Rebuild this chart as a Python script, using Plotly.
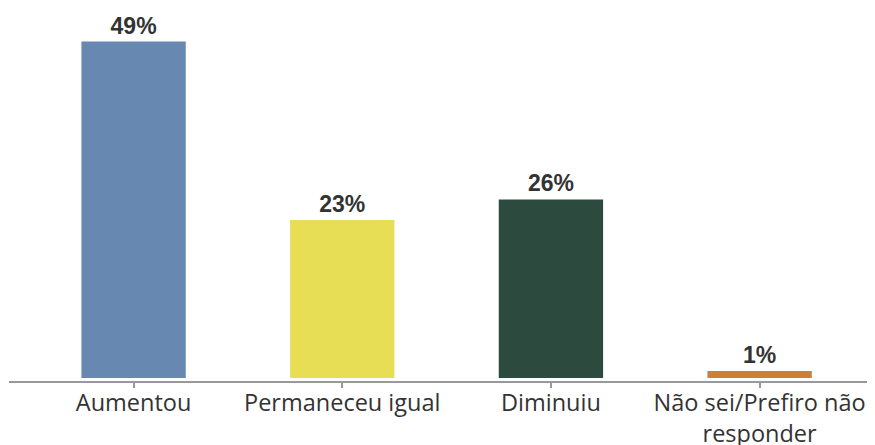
import plotly.graph_objects as go

categories = ["Aumentou", "Permaneceu igual", "Diminuiu", "Não sei/Prefiro não<br>responder"]
values = [49, 23, 26, 1]
labels = ["49%", "23%", "26%", "1%"]
colors = ["#6788b0", "#e8de55", "#2c4a3e", "#cd7f34"]

fig = go.Figure(go.Bar(
    x=categories, y=values, width=0.5,
    marker=dict(color=colors, line=dict(width=0)),
    text=labels, textposition="outside", cliponaxis=False,
    textfont=dict(family="Liberation Sans, Arial", size=23, color="#333333", weight="bold"),
))

# page body has an 8px default margin, compensated in the margins below
fig.update_layout(
    width=875, height=445,
    margin=dict(l=1, r=8, t=2, b=72),
    paper_bgcolor="white", plot_bgcolor="white",
    showlegend=False,
    xaxis=dict(
        range=[-0.597, 3.553], automargin=False,
        showline=True, linecolor="#999999", linewidth=2,
        ticks="outside", ticklen=5, tickwidth=2, tickcolor="#999999",
        ticklabelstandoff=-5,
        tickfont=dict(family="Open Sans", size=23.5, color="#333333"),
        showgrid=False, zeroline=False,
    ),
    yaxis=dict(range=[-0.44, 53.6], visible=False, showgrid=False, zeroline=False, automargin=False),
)

fig.write_html("out.html")
